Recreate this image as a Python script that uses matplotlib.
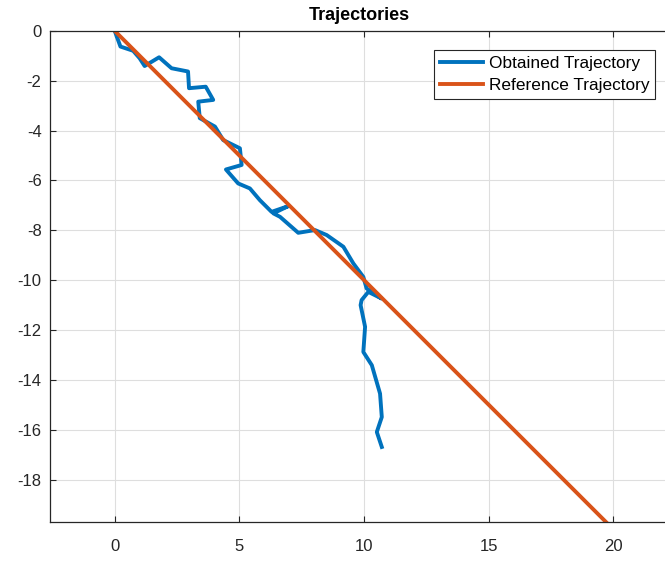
import numpy as np
import matplotlib
matplotlib.use("Agg")
from matplotlib import pyplot as plt

plt.rcParams['font.family'] = ['Liberation Sans', 'DejaVu Sans']
plt.rcParams['axes.unicode_minus'] = False

# obtained trajectory
obt_x = [0, 0.23, 0.74, 1.0, 1.2, 1.78, 2.28, 2.94, 2.98, 3.65, 3.95, 3.35, 3.41, 4.02,
         4.35, 5.02, 5.09, 4.46, 4.95, 5.42, 5.82, 6.29, 6.96, 6.36, 6.63, 7.36, 8.03,
         8.5, 9.17, 9.57, 9.97, 10.1, 10.71, 10.17, 9.9, 9.86, 10.04, 9.97, 10.31,
         10.64, 10.71, 10.51, 10.71]
obt_y = [0, -0.63, -0.8, -1.1, -1.41, -1.06, -1.5, -1.63, -2.3, -2.24, -2.77, -2.84,
         -3.5, -3.84, -4.38, -4.71, -5.38, -5.56, -6.12, -6.32, -6.79, -7.26, -7.03,
         -7.32, -7.46, -8.1, -7.99, -8.19, -8.66, -9.33, -9.87, -10.33, -10.74, -10.47,
         -10.8, -11.0, -11.87, -12.88, -13.41, -14.55, -15.49, -16.09, -16.69]

# reference trajectory
ref_x = [0, 25]
ref_y = [0, -25]

fig = plt.figure(figsize=(6.65, 5.61), dpi=100)
ax = fig.add_axes([0.075, 0.0695, 0.93, 0.8755])

ax.plot(obt_x, obt_y, color='#0072BD', lw=2.8, label='Obtained Trajectory')
ax.plot(ref_x, ref_y, color='#D95319', lw=2.8, label='Reference Trajectory')

ax.set_xlim(-2.6, 22.2)
ax.set_ylim(-19.7, 0)
ax.set_xticks([0, 5, 10, 15, 20])
ax.set_yticks(np.arange(-18, 1, 2))
ax.grid(True, color='#dedede', lw=0.8)
ax.set_axisbelow(True)
ax.tick_params(direction='in', top=True, right=False, labelsize=12, colors='#262626', length=4)
ax.tick_params(axis='x', pad=12)
ax.tick_params(axis='y', pad=6)
ax.spines['right'].set_visible(False)
for s in ax.spines.values():
    s.set_color('#262626')
    s.set_linewidth(0.9)
ax.set_title('Trajectories', fontsize=13, fontweight='bold', pad=8)

leg = ax.legend(loc='upper right', bbox_to_anchor=(0.979, 0.962), fontsize=12.4, fancybox=False,
                framealpha=1, edgecolor='#262626', handlelength=2.5, borderpad=0.35,
                labelspacing=0.45, handletextpad=0.35, borderaxespad=0)
leg.get_frame().set_linewidth(0.8)

fig.savefig('out.png', dpi=100)
